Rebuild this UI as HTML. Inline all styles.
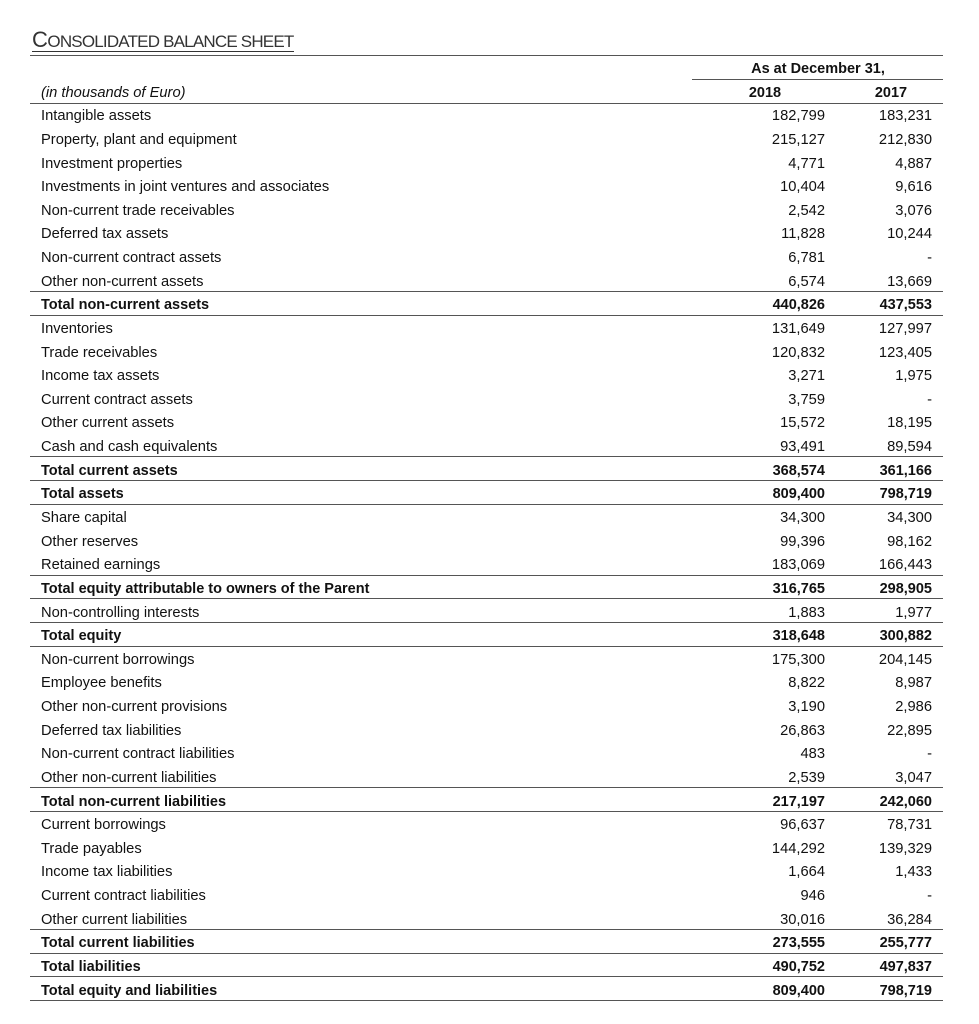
<!DOCTYPE html>
<html>
<head>
<meta charset="utf-8">
<style>
html,body{margin:0;padding:0;background:#fff;}
body{width:979px;height:1024px;position:relative;overflow:hidden;font-family:"Liberation Sans",Arial,sans-serif;color:#111;}
.title{position:absolute;left:32px;top:27px;font-size:17px;letter-spacing:-0.8px;color:#333;white-space:nowrap;line-height:26px;}
.title .big{font-size:22px;letter-spacing:-0.5px;}
.hl{position:absolute;height:1px;background:#555;left:30px;width:913px;}
.t{position:absolute;white-space:nowrap;font-size:14.7px;line-height:24px;}
.r{position:absolute;left:0;width:979px;height:24px;font-size:14.7px;line-height:24px;white-space:nowrap;}
.r span{position:absolute;top:1px;}
.r .l{left:41px;}
.r .a{right:154px;}
.r .c{right:47px;}
.b{font-weight:bold;font-size:14.5px;}
.lab{left:41px;}
.hc{text-align:center;font-weight:bold;font-size:14.5px;}
</style>
</head>
<body>
<div class="title"><span class="big">C</span>ONSOLIDATED BALANCE SHEET</div>
<div class="hl" style="left:32px;top:51px;width:262px;background:#333;"></div>
<div class="hl" style="top:55px;"></div>
<div class="t hc" style="left:693px;width:250px;top:57px;">As at December 31,</div>
<div class="hl" style="left:692px;top:79px;width:251px;"></div>
<div class="t hc" style="left:725px;width:80px;top:81px;">2018</div>
<div class="t hc" style="left:851px;width:80px;top:81px;">2017</div>
<div class="t lab" style="top:81px;font-style:italic;">(in thousands of Euro)</div>
<div class="hl" style="top:103px;"></div>

<div class="r" style="top:103.2px"><span class="l">Intangible assets</span><span class="a">182,799</span><span class="c">183,231</span></div>
<div class="r" style="top:126.8px"><span class="l">Property, plant and equipment</span><span class="a">215,127</span><span class="c">212,830</span></div>
<div class="r" style="top:150.5px"><span class="l">Investment properties</span><span class="a">4,771</span><span class="c">4,887</span></div>
<div class="r" style="top:174.1px"><span class="l">Investments in joint ventures and associates</span><span class="a">10,404</span><span class="c">9,616</span></div>
<div class="r" style="top:197.7px"><span class="l">Non-current trade receivables</span><span class="a">2,542</span><span class="c">3,076</span></div>
<div class="r" style="top:221.4px"><span class="l">Deferred tax assets</span><span class="a">11,828</span><span class="c">10,244</span></div>
<div class="r" style="top:245.0px"><span class="l">Non-current contract assets</span><span class="a">6,781</span><span class="c">-</span></div>
<div class="r" style="top:268.6px"><span class="l">Other non-current assets</span><span class="a">6,574</span><span class="c">13,669</span></div>
<div class="hl" style="top:291px;"></div>
<div class="r b" style="top:292.3px"><span class="l">Total non-current assets</span><span class="a">440,826</span><span class="c">437,553</span></div>
<div class="hl" style="top:315px;"></div>
<div class="r" style="top:315.9px"><span class="l">Inventories</span><span class="a">131,649</span><span class="c">127,997</span></div>
<div class="r" style="top:339.5px"><span class="l">Trade receivables</span><span class="a">120,832</span><span class="c">123,405</span></div>
<div class="r" style="top:363.2px"><span class="l">Income tax assets</span><span class="a">3,271</span><span class="c">1,975</span></div>
<div class="r" style="top:386.8px"><span class="l">Current contract assets</span><span class="a">3,759</span><span class="c">-</span></div>
<div class="r" style="top:410.4px"><span class="l">Other current assets</span><span class="a">15,572</span><span class="c">18,195</span></div>
<div class="r" style="top:434.1px"><span class="l">Cash and cash equivalents</span><span class="a">93,491</span><span class="c">89,594</span></div>
<div class="hl" style="top:456px;"></div>
<div class="r b" style="top:457.7px"><span class="l">Total current assets</span><span class="a">368,574</span><span class="c">361,166</span></div>
<div class="hl" style="top:480px;"></div>
<div class="r b" style="top:481.3px"><span class="l">Total assets</span><span class="a">809,400</span><span class="c">798,719</span></div>
<div class="hl" style="top:504px;"></div>
<div class="r" style="top:504.9px"><span class="l">Share capital</span><span class="a">34,300</span><span class="c">34,300</span></div>
<div class="r" style="top:528.6px"><span class="l">Other reserves</span><span class="a">99,396</span><span class="c">98,162</span></div>
<div class="r" style="top:552.2px"><span class="l">Retained earnings</span><span class="a">183,069</span><span class="c">166,443</span></div>
<div class="hl" style="top:575px;"></div>
<div class="r b" style="top:575.8px"><span class="l">Total equity attributable to owners of the Parent</span><span class="a">316,765</span><span class="c">298,905</span></div>
<div class="hl" style="top:598px;"></div>
<div class="r" style="top:599.5px"><span class="l">Non-controlling interests</span><span class="a">1,883</span><span class="c">1,977</span></div>
<div class="hl" style="top:622px;"></div>
<div class="r b" style="top:623.1px"><span class="l">Total equity</span><span class="a">318,648</span><span class="c">300,882</span></div>
<div class="hl" style="top:646px;"></div>
<div class="r" style="top:646.7px"><span class="l">Non-current borrowings</span><span class="a">175,300</span><span class="c">204,145</span></div>
<div class="r" style="top:670.4px"><span class="l">Employee benefits</span><span class="a">8,822</span><span class="c">8,987</span></div>
<div class="r" style="top:694.0px"><span class="l">Other non-current provisions</span><span class="a">3,190</span><span class="c">2,986</span></div>
<div class="r" style="top:717.6px"><span class="l">Deferred tax liabilities</span><span class="a">26,863</span><span class="c">22,895</span></div>
<div class="r" style="top:741.3px"><span class="l">Non-current contract liabilities</span><span class="a">483</span><span class="c">-</span></div>
<div class="r" style="top:764.9px"><span class="l">Other non-current liabilities</span><span class="a">2,539</span><span class="c">3,047</span></div>
<div class="hl" style="top:787px;"></div>
<div class="r b" style="top:788.5px"><span class="l">Total non-current liabilities</span><span class="a">217,197</span><span class="c">242,060</span></div>
<div class="hl" style="top:811px;"></div>
<div class="r" style="top:812.2px"><span class="l">Current borrowings</span><span class="a">96,637</span><span class="c">78,731</span></div>
<div class="r" style="top:835.8px"><span class="l">Trade payables</span><span class="a">144,292</span><span class="c">139,329</span></div>
<div class="r" style="top:859.4px"><span class="l">Income tax liabilities</span><span class="a">1,664</span><span class="c">1,433</span></div>
<div class="r" style="top:883.1px"><span class="l">Current contract liabilities</span><span class="a">946</span><span class="c">-</span></div>
<div class="r" style="top:906.7px"><span class="l">Other current liabilities</span><span class="a">30,016</span><span class="c">36,284</span></div>
<div class="hl" style="top:929px;"></div>
<div class="r b" style="top:930.3px"><span class="l">Total current liabilities</span><span class="a">273,555</span><span class="c">255,777</span></div>
<div class="hl" style="top:953px;"></div>
<div class="r b" style="top:954.0px"><span class="l">Total liabilities</span><span class="a">490,752</span><span class="c">497,837</span></div>
<div class="hl" style="top:976px;"></div>
<div class="r b" style="top:977.6px"><span class="l">Total equity and liabilities</span><span class="a">809,400</span><span class="c">798,719</span></div>
<div class="hl" style="top:1000px;"></div>
</body>
</html>
